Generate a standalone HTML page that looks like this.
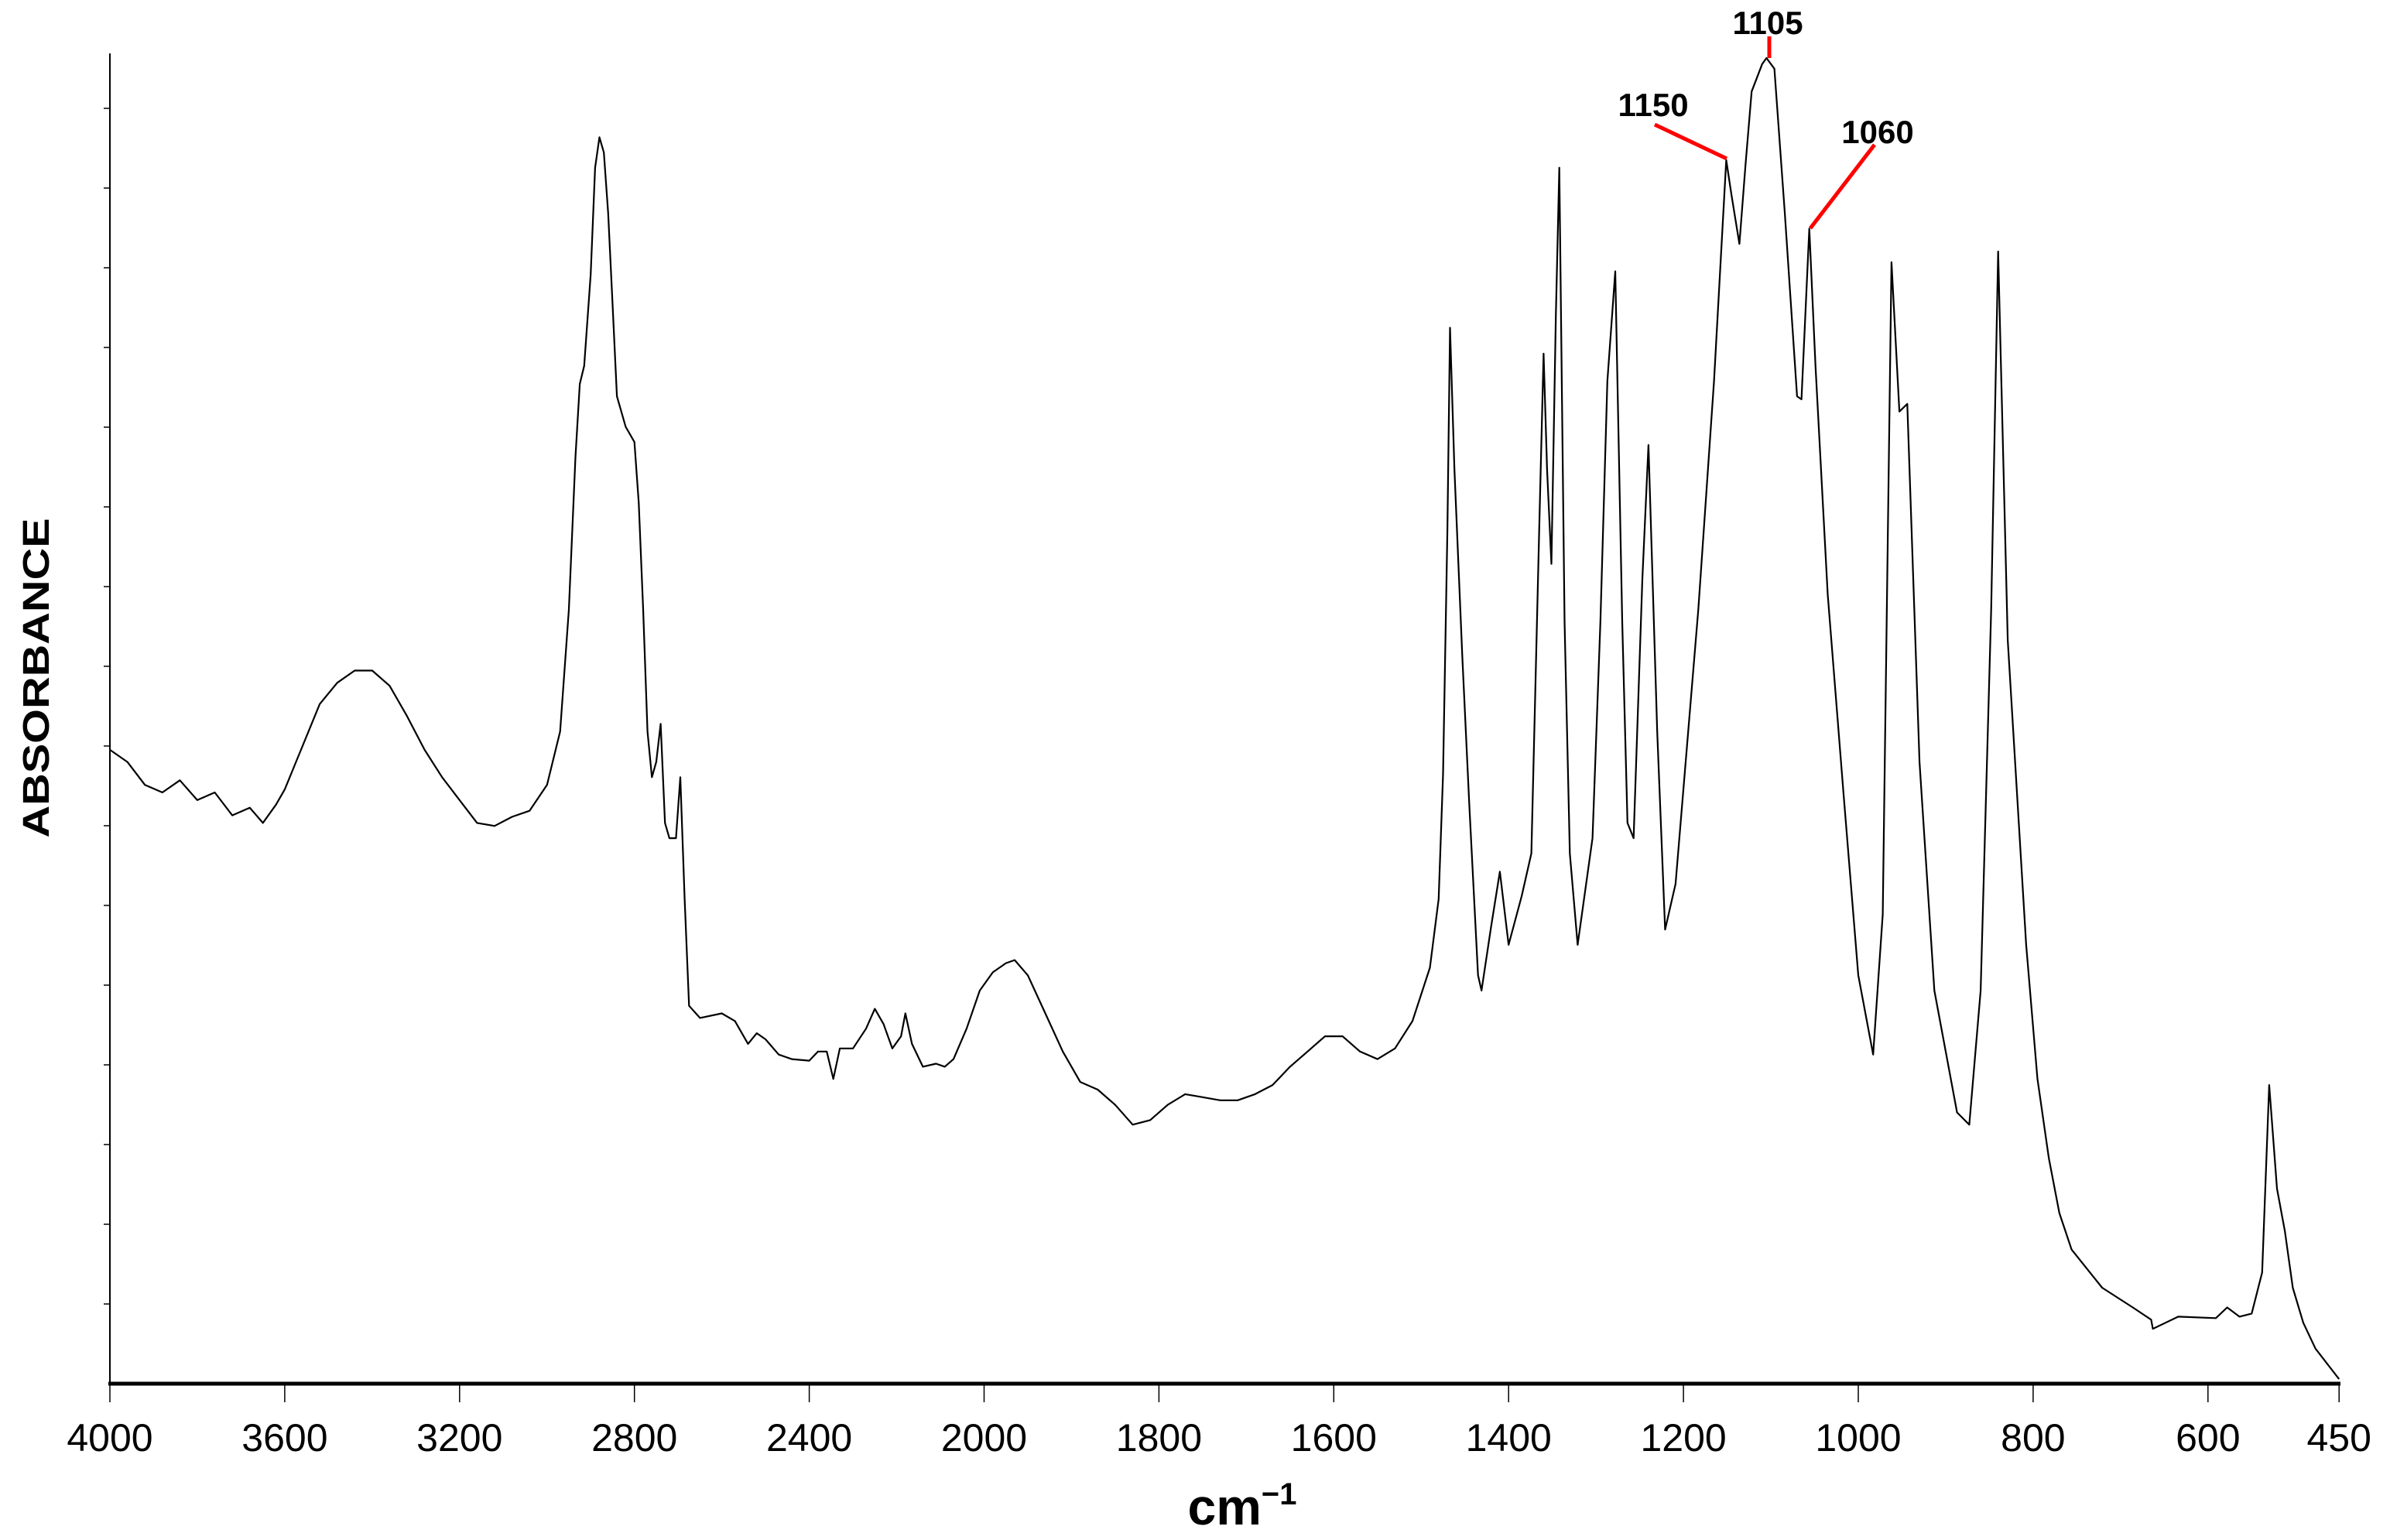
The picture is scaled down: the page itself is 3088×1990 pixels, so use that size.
<!DOCTYPE html>
<html><head><meta charset="utf-8"><style>
html,body{margin:0;padding:0;background:#fff;}
svg{display:block;}
text{font-family:"Liberation Sans",sans-serif;}
</style></head><body>
<svg id="chart" width="3088" height="1990" viewBox="0 0 3088 1990" xmlns="http://www.w3.org/2000/svg">
<rect width="3088" height="1990" fill="#fff"/>
<g id="axes"></g>
<path id="spectrum" fill="none" stroke="#000" stroke-width="2.2" stroke-linejoin="round"/>
<g id="annots"></g>
<text x="1605" y="1970" font-size="66" font-weight="bold" text-anchor="middle">cm<tspan font-size="40" dy="-26">−1</tspan></text>
<text transform="translate(63,876) rotate(-90)" font-size="48" font-weight="bold" text-anchor="middle" textLength="413" lengthAdjust="spacingAndGlyphs">ABSORBANCE</text>
</svg>
<script>
const tickLabels = [4000,3600,3200,2800,2400,2000,1800,1600,1400,1200,1000,800,600,450];
const wavenumbers = [4000,3960,3920,3880,3840,3800,3760,3720,3680,3650,3620,3600,3560,3520,3480,3440,3400,3360,3320,3280,3240,3200,3160,3120,3080,3040,3000,2970,2950,2935,2925,2915,2900,2890,2880,2870,2860,2850,2840,2820,2800,2790,2780,2770,2760,2750,2740,2730,2720,2705,2695,2685,2675,2650,2600,2570,2540,2520,2500,2470,2440,2400,2380,2360,2345,2330,2300,2270,2250,2230,2210,2190,2180,2165,2140,2110,2090,2070,2040,2010,1990,1975,1965,1950,1930,1910,1890,1870,1850,1830,1810,1790,1770,1750,1730,1710,1690,1670,1650,1630,1610,1590,1570,1550,1530,1510,1490,1480,1475,1470,1467,1462,1453,1445,1435,1431,1420,1410,1400,1385,1374,1365,1360,1356,1351,1346,1342,1336,1330,1321,1304,1295,1287,1278,1270,1264,1257,1247,1240,1230,1221,1209,1183,1165,1151,1145,1136,1129,1122,1110,1105,1096,1084,1070,1065,1056,1049,1035,1017,1000,983,972,962,953,944,930,913,887,873,860,848,840,829,808,795,782,770,756,721,686,665,663,634,591,578,564,550,538,530,521,512,503,491,477,450];
const absorbance = [.416,.408,.393,.388,.396,.383,.388,.373,.378,.368,.380,.390,.418,.446,.460,.468,.468,.458,.438,.416,.398,.383,.368,.366,.372,.376,.393,.428,.508,.608,.656,.668,.728,.798,.818,.808,.768,.708,.648,.628,.618,.578,.508,.428,.398,.408,.433,.368,.358,.358,.398,.318,.248,.240,.243,.238,.223,.230,.226,.216,.213,.212,.218,.218,.200,.220,.220,.233,.246,.236,.220,.228,.243,.223,.208,.210,.208,.213,.233,.258,.270,.276,.278,.268,.243,.218,.198,.193,.183,.170,.173,.183,.190,.188,.186,.186,.190,.196,.208,.218,.228,.228,.218,.213,.220,.238,.273,.318,.400,.560,.693,.600,.478,.380,.268,.258,.300,.336,.288,.320,.348,.560,.676,.600,.538,.700,.798,.500,.348,.288,.358,.500,.658,.730,.500,.368,.358,.528,.616,.428,.298,.328,.508,.658,.803,.780,.748,.800,.848,.866,.870,.863,.768,.648,.646,.758,.668,.518,.388,.268,.216,.308,.736,.638,.643,.408,.258,.178,.170,.258,.508,.743,.488,.288,.200,.148,.112,.088,.063,.050,.042,.036,.044,.043,.050,.044,.046,.073,.196,.128,.100,.063,.040,.023,.003];
const peakLabels = ["1150","1105","1060"];
const peakWn = [1150,1105,1060];

const X0 = 142, UNIT = 225.9, Y0 = 1788, YS = 1969;
function idx(wn){ return wn >= 2000 ? (4000 - wn) / 400 : 5 + (2000 - wn) / 200; }
function xs(wn){ return X0 + idx(wn) * UNIT; }
function ys(v){ return Y0 - v * YS; }

const NS = "http://www.w3.org/2000/svg";
const axes = document.getElementById('axes');
function mk(tag, attrs, parent){ const e = document.createElementNS(NS, tag); for (const k in attrs) e.setAttribute(k, attrs[k]); parent.appendChild(e); return e; }

const yAxis = mk('line', {x1:X0, y1:69, x2:X0, y2:Y0, stroke:'#000', 'stroke-width':2}, axes);


for (let y = Y0 - 103; y > 80; y -= 103) {
  const t = mk('line', {x1:X0-8, y1:y, x2:X0, y2:y, stroke:'#000', 'stroke-width':1.5}, axes);
  
  
}
const xAxis = mk('line', {x1:X0-2, y1:Y0, x2:3024, y2:Y0, stroke:'#000', 'stroke-width':5}, axes);


tickLabels.forEach(v => {
  const x = xs(v);
  const t = mk('line', {x1:x, y1:Y0, x2:x, y2:Y0+24, stroke:'#000', 'stroke-width':1.5}, axes);
  
  
  const l = mk('text', {x:x, y:1875, 'font-size':50, 'text-anchor':'middle'}, axes);
  l.textContent = v;
  
  
});

let d = '';
wavenumbers.forEach((w, i) => { d += (i ? 'L' : 'M') + xs(w).toFixed(1) + ',' + ys(absorbance[i]).toFixed(1); });
document.getElementById('spectrum').setAttribute('d', d);

const an = document.getElementById('annots');
const labelPos = [[2136,150,2138,161,2231,205],[2284,44,2286,47,2286,75],[2426,185,2422,187,2339,295]];
peakLabels.forEach((lab, i) => {
  const p = labelPos[i];
  const ln = mk('line', {x1:p[2], y1:p[3], x2:p[4], y2:p[5], stroke:'#ff0000', 'stroke-width':5}, an);
  
  
  const t = mk('text', {x:p[0], y:p[1], 'font-size':42, 'font-weight':'bold', 'text-anchor':'middle'}, an);
  t.textContent = lab;
  
  
});
</script>
</body></html>
